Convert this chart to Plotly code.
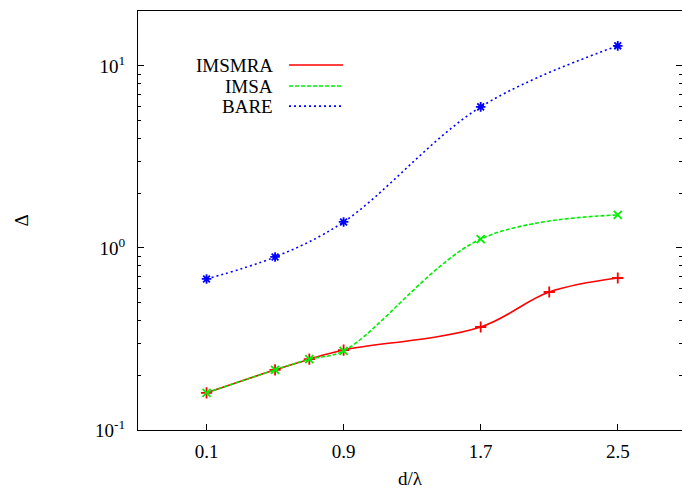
import plotly.graph_objects as go

# ---- data ----
imsmra_x = [0.1, 0.5, 0.7, 0.9, 1.7, 2.1, 2.5]
imsmra_y = [0.160, 0.214, 0.245, 0.275, 0.368, 0.573, 0.684]

imsa_x = [0.1, 0.5, 0.7, 0.9, 1.7, 2.5]
imsa_y = [0.160, 0.214, 0.245, 0.272, 1.12, 1.52]

bare_x = [0.1, 0.5, 0.9, 1.7, 2.5]
bare_y = [0.676, 0.893, 1.39, 5.96, 12.9]

x_ticks = [0.1, 0.9, 1.7, 2.5]
x_tick_labels = ["0.1", "0.9", "1.7", "2.5"]
y_ticks = [0.1, 1, 10]
y_tick_labels = ["10<sup>-1</sup>", "10<sup>0</sup>", "10<sup>1</sup>"]
y_minor = [m * d for d in (0.1, 1, 10) for m in range(2, 10) if m * d <= 20]

names = ["IMSMRA", "IMSA", "BARE"]
colors = ["#ff0000", "#00ee00", "#0000ff"]
dashes = ["solid", "4px,2px", "2px,3px"]
symbols = ["cross-thin", "x-thin", "asterisk"]

FONT = "Liberation Serif"

fig = go.Figure()
series = [(imsmra_x, imsmra_y), (imsa_x, imsa_y), (bare_x, bare_y)]
for (xs, ys), nm, c, d, s in zip(series, names, colors, dashes, symbols):
    fig.add_trace(go.Scatter(
        x=xs, y=ys, name=nm, mode="lines+markers",
        line=dict(color=c, width=1.6, dash=d, shape="spline", smoothing=1.0),
        marker=dict(symbol=s, size=8, color=c, line=dict(color=c, width=1.8)),
        showlegend=False,
    ))

# custom legend (text right-aligned, sample line to the right)
leg_y = [0.871, 0.821, 0.773]
for nm, c, d, yy in zip(names, colors, dashes, leg_y):
    fig.add_annotation(x=0.252, y=yy, xref="paper", yref="paper", text=nm,
                       showarrow=False, xanchor="right", yanchor="middle",
                       font=dict(family=FONT, size=19, color="black"))
    fig.add_shape(type="line", xref="paper", yref="paper",
                  x0=0.2776, x1=0.3768, y0=yy, y1=yy,
                  line=dict(color=c, width=1.6, dash=d))

# axis titles
fig.add_annotation(x=-0.215, y=0.5, xref="paper", yref="paper", text="Δ",
                   showarrow=False, textangle=-90, xanchor="center", yanchor="middle",
                   font=dict(family=FONT, size=19, color="black"))
fig.add_annotation(x=0.5, y=-0.115, xref="paper", yref="paper", text="d/λ",
                   showarrow=False, xanchor="center", yanchor="middle",
                   font=dict(family=FONT, size=19, color="black"))

fig.update_layout(
    width=682, height=494,
    margin=dict(l=138, r=0, t=11, b=64),
    paper_bgcolor="white", plot_bgcolor="white",
    font=dict(family=FONT, size=19, color="black"),
    xaxis=dict(
        range=[-0.3, 2.875], tickvals=x_ticks, ticktext=x_tick_labels,
        ticks="inside", ticklen=6, tickwidth=1, tickcolor="black",
        showline=True, linecolor="black", linewidth=1.3, mirror=True,
        showgrid=False, zeroline=False, ticklabelstandoff=4,
        tickfont=dict(family=FONT, size=19, color="black"),
    ),
    yaxis=dict(
        type="log", range=[-1, 1.302], tickvals=y_ticks, ticktext=y_tick_labels,
        ticks="inside", ticklen=6, tickwidth=1, tickcolor="black",
        showline=True, linecolor="black", linewidth=1.3, mirror="ticks",
        showgrid=False, zeroline=False, ticklabelstandoff=8,
        tickfont=dict(family=FONT, size=19, color="black"),
        minor=dict(tickvals=y_minor, ticks="inside", ticklen=3,
                   tickcolor="black", tickwidth=1, showgrid=False),
    ),
)

fig.write_html("out.html")
